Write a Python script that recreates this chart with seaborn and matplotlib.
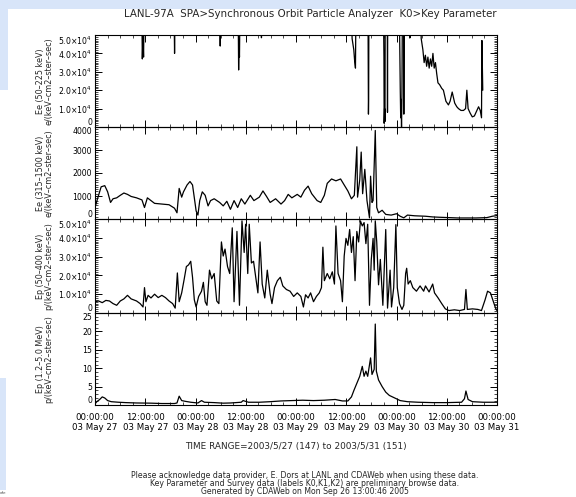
import matplotlib
matplotlib.use("Agg")
import matplotlib.pyplot as plt
from matplotlib.patches import Rectangle
from matplotlib.ticker import MultipleLocator, FixedLocator
import seaborn as sns
import pandas as pd

# ---------------- data (hours since 2003-05-27 00:00) ----------------
ee_lo_hours = [0, 11.2, 11.3, 11.45, 11.6, 11.7,
               18.9, 19.0, 19.1,
               29.8, 29.9, 30.0,
               34.2, 34.3, 34.4, 34.5, 34.6,
               39.7, 39.75, 39.8,
               61.3, 61.4, 61.6, 61.8, 62.0, 62.2, 62.3,
               65.2, 65.3, 65.35, 65.4,
               68.9, 69.0, 69.05, 69.15, 69.25, 69.3,
               69.8, 69.85, 69.9,
               72.7, 72.8, 72.9, 73.0, 73.1, 73.2, 73.3, 73.4,
               73.7, 73.75, 73.8, 73.85,
               75.2, 75.25, 75.3,
               77.8, 77.9, 78.3, 78.6, 78.9, 79.2, 79.5, 79.8, 80.1, 80.4, 80.7,
               81.0, 81.3, 81.6, 81.9, 82.3, 82.8, 83.2, 83.8, 84.4, 84.8, 85.3,
               85.9, 86.4, 86.8, 87.4, 88.0, 88.5, 88.8, 89.1, 89.6, 90.1, 90.6,
               91.2, 91.6, 92.0, 92.3, 92.4, 92.6]
ee_lo_flux = [60000, 60000, 37000, 49000, 38000, 60000,
              60000, 40000, 60000,
              60000, 44000, 60000,
              60000, 31000, 45000, 38000, 60000,
              60000, 48500, 60000,
              60000, 48000, 45000, 42000, 36000, 32000, 60000,
              60000, 7000, 15000, 60000,
              60000, 38000, 2000, 10000, 3000, 60000,
              60000, 8000, 60000,
              60000, 40000, 20000, 5000, 15000, 0, 18000, 60000,
              60000, 7000, 38000, 60000,
              60000, 48500, 60000,
              60000, 48000, 42000, 35000, 39000, 33000, 38000, 32000, 37000, 33000, 40000,
              32000, 35000, 29000, 24000, 23000, 21000, 20000, 14000, 12000, 14000, 19000,
              13000, 11000, 10000, 9000, 9000, 10000, 20000, 10000, 7500, 5500, 6000,
              9000, 11000, 9000, 5000, 47000, 20000]

ee_hi_hours = [0, 0.6, 1.47, 2.33, 3.02, 3.71, 4.31, 5.18, 6.04, 6.9, 7.76, 8.63, 9.92, 11.21,
               11.82, 12.51, 13.37, 14.23, 15.96, 17.68, 18.98, 19.58, 20.1, 20.7, 21.13, 21.99,
               22.68, 23.29, 23.72, 24.15, 24.58, 25.01, 25.62, 26.31, 27.0, 27.6, 28.46, 29.76,
               30.62, 31.48, 32.34, 33.21, 34.07, 34.93, 35.79, 37.09, 37.95, 39.24, 40.11, 40.97,
               41.83, 43.13, 44.42, 45.28, 46.14, 47.01, 48.3, 49.16, 50.03, 50.89, 51.75, 53.04,
               53.91, 54.77, 55.46, 56.49, 57.53, 58.65, 59.51, 60.38, 61.24, 61.93, 62.53, 62.7,
               63.22, 63.57, 63.91, 64.43, 64.95, 65.55, 65.81, 66.15, 66.41, 66.93, 67.28, 67.71,
               68.57, 69.43, 70.73, 72.02, 72.88, 73.74, 74.61, 76.33, 78.92, 80.64, 82.37, 86.68,
               90.99, 93.58, 94.88, 96.0]
ee_hi_flux = [500, 880, 1400, 1450, 1180, 720, 880, 920, 1030, 1130, 1070, 980, 920, 830,
              500, 920, 800, 680, 650, 620, 470, 270, 1330, 950, 1180, 1480,
              1630, 1480, 920, 350, 170, 800, 1180, 1030, 570, 800, 880, 720,
              570, 770, 420, 800, 500, 880, 650, 1030, 800, 950, 1220, 980,
              720, 880, 650, 800, 1070, 920, 1070, 950, 1250, 1430, 1100, 800,
              720, 1030, 1550, 1740, 1660, 1740, 1480, 1220, 880, 1030, 3140, 950,
              1700, 2910, 1100, 2160, 800, 50, 1860, 720, 800, 3850, 500, 270,
              380, 200, 170, 230, 120, 50, 170, 140, 120, 90, 75, 45,
              45, 60, 120, 150]

ep_lo_hours = [0, 0.86, 1.73, 2.59, 3.45, 4.31, 5.18, 6.04, 6.9, 7.76, 8.63, 9.92, 10.78, 11.47,
               11.82, 12.16, 12.68, 13.37, 14.23, 15.09, 15.96, 16.82, 17.68, 18.54, 19.15, 19.67,
               20.1, 20.7, 21.3, 21.82, 22.34, 22.86, 23.29, 23.72, 24.15, 24.75, 25.44, 25.88,
               26.31, 26.74, 27.34, 27.86, 28.46, 29.07, 29.58, 30.19, 30.62, 31.05, 31.65, 32.17,
               32.78, 33.21, 33.9, 34.5, 35.1, 35.62, 35.97, 36.48, 36.83, 37.35, 37.86, 38.38,
               38.9, 39.42, 39.93, 40.54, 41.14, 41.83, 42.26, 42.87, 43.56, 44.25, 44.85, 45.71,
               46.58, 47.44, 48.3, 49.16, 49.77, 50.28, 50.89, 51.49, 52.18, 52.87, 53.56, 54.08,
               54.42, 54.77, 55.46, 56.06, 56.67, 57.18, 57.53, 58.05, 58.65, 59.08, 59.51, 59.94,
               60.38, 60.81, 61.24, 61.67, 62.1, 62.53, 62.96, 63.39, 63.83, 64.26, 64.69, 65.12,
               65.55, 65.98, 66.41, 66.67, 66.93, 67.28, 67.71, 68.14, 68.74, 69.43, 69.86, 70.47,
               70.81, 71.33, 71.85, 72.19, 72.71, 73.31, 73.74, 74.18, 74.43, 74.78, 75.3, 75.9,
               76.76, 77.63, 78.49, 78.92, 79.78, 80.64, 81.08, 81.94, 82.8, 83.66, 84.53, 85.82,
               87.11, 88.23, 88.58, 88.92, 90.13, 91.43, 92.29, 93.15, 93.75, 94.44, 95.13, 95.65,
               96.0]
ep_lo_flux = [6000, 6400, 5500, 6700, 6400, 5000, 4100, 6400, 7500, 9400, 7500, 6400, 5000, 3200,
              13500, 6000, 9400, 8000, 10000, 8200, 9400, 8200, 6400, 5000, 2600, 21300,
              6000, 10700, 18000, 24700, 25600, 27500, 19000, 7000, 3200, 8800, 11600, 16300,
              6000, 4100, 22800, 18200, 21000, 6400, 5000, 37800, 30300, 34000, 24700, 21000,
              45300, 6000, 43400, 4100, 49000, 32200, 47200, 21000, 47200, 26600, 27500, 19000,
              10700, 37800, 15400, 8000, 22800, 10000, 5000, 13500, 17200, 19000, 14400, 12500,
              11600, 8800, 10700, 8800, 3200, 9700, 8000, 10700, 6000, 8800, 10700, 13500,
              35000, 17200, 21000, 18200, 21900, 15400, 46300, 21000, 17200, 6000, 30300, 39700,
              36000, 44400, 32200, 40600, 17200, 43400, 37800, 49000, 46300, 48100, 36900, 47200,
              4100, 28500, 39700, 22800, 49000, 37800, 15000, 28500, 4100, 44400, 2600, 22800,
              3200, 13500, 47000, 13500, 5000, 1900, 4100, 21000, 23800, 15400, 17200, 13500,
              11600, 14400, 11600, 14400, 11200, 15400, 10700, 8000, 5000, 2200, 1300, 1700,
              1300, 1900, 12500, 1900, 2200, 1900, 1300, 7000, 11600, 10700, 6000, 2600,
              1300]

ep_hi_hours = [0, 0.43, 1.12, 1.73, 2.33, 3.02, 3.88, 5.61, 7.33, 9.92, 13.37, 15.96, 18.98, 19.58,
               20.1, 20.7, 21.56, 22.86, 24.58, 25.44, 26.13, 28.46, 30.62, 32.34, 34.93, 35.36,
               36.66, 39.24, 41.83, 44.42, 47.01, 49.59, 52.18, 54.77, 57.36, 59.08, 60.38, 61.24,
               61.84, 62.53, 63.22, 63.83, 64.26, 64.69, 65.12, 65.81, 66.15, 66.67, 66.93, 67.19,
               67.71, 68.57, 69.43, 70.29, 71.59, 72.88, 74.61, 77.19, 80.64, 84.09, 87.54, 88.23,
               88.58, 89.1, 90.13, 92.69, 96.0]
ep_hi_flux = [0.3, 0.9, 1.5, 2.2, 1.9, 1.2, 0.9, 0.75, 0.65, 0.55, 0.5, 0.4, 0.4, 0.55,
              2.4, 1.2, 1.0, 0.75, 0.55, 1.2, 0.75, 0.65, 0.5, 0.55, 0.75, 1.2,
              0.75, 0.75, 0.9, 1.1, 1.2, 1.3, 1.2, 1.3, 1.5, 1.1, 1.1, 2.2,
              4.0, 5.9, 7.8, 10.5, 7.8, 9.2, 7.8, 12.8, 8.3, 9.7, 22.0, 9.2,
              6.8, 5.0, 3.5, 2.6, 1.9, 1.2, 0.9, 0.75, 0.65, 0.65, 0.75, 1.7,
              3.8, 1.5, 0.9, 0.75, 0.75]

time_ticks = [0, 12, 24, 36, 48, 60, 72, 84, 96]
time_ticklabels = ["00:00:00\n03 May 27", "12:00:00\n03 May 27", "00:00:00\n03 May 28",
                   "12:00:00\n03 May 28", "00:00:00\n03 May 29", "12:00:00\n03 May 29",
                   "00:00:00\n03 May 30", "12:00:00\n03 May 30", "00:00:00\n03 May 31"]

flux_ticks = [0, 10000, 20000, 30000, 40000, 50000]
flux_ticklabels = ["0", r"1.0$\times$10$^4$", r"2.0$\times$10$^4$", r"3.0$\times$10$^4$",
                   r"4.0$\times$10$^4$", r"5.0$\times$10$^4$"]
hi_ticks = [0, 1000, 2000, 3000, 4000]
hi_ticklabels = ["0", "1000", "2000", "3000", "4000"]
mev_ticks = [0, 5, 10, 15, 20, 25]
mev_ticklabels = ["0", "5", "10", "15", "20", "25"]

panel_labels = ["Ee (50\u2013225 keV)\ne/(keV\u2013cm2\u2013ster\u2013sec)",
                "Ee (315\u20131500 keV)\ne/(keV\u2013cm2\u2013ster\u2013sec)",
                "Ep (50\u2013400 keV)\np/(keV\u2013cm2\u2013ster\u2013sec)",
                "Ep (1.2\u20135.0 MeV)\np/(keV\u2013cm2\u2013ster\u2013sec)"]

title = "LANL-97A  SPA>Synchronous Orbit Particle Analyzer  K0>Key Parameter"
time_range = "TIME RANGE=2003/5/27 (147) to 2003/5/31 (151)"
footer = ["Please acknowledge data provider, E. Dors at LANL and CDAWeb when using these data.",
          "Key Parameter and Survey data (labels K0,K1,K2) are preliminary browse data.",
          "Generated by CDAWeb on Mon Sep 26 13:00:46 2005"]

# ---------------- figure ----------------
sns.set_style("white")
plt.rcParams["font.family"] = ["DejaVu Sans"]
plt.rcParams["mathtext.fontset"] = "dejavusans"

W, H = 576, 497
fig = plt.figure(figsize=(W / 100, H / 100), dpi=100)
fig.patch.set_facecolor("white")

blue = "#d8e5f9"
for (x0, y0, w, h) in [(0, 0, W, 9), (0, 0, 8, 90), (0, 378, 6, 112)]:
    fig.patches.append(Rectangle((x0 / W, 1 - (y0 + h) / H), w / W, h / H,
                                 transform=fig.transFigure, facecolor=blue,
                                 edgecolor="none", zorder=-5))
fig.text(0.0, 1 - 493 / H, "ofe", fontsize=3, color="#555555", va="center", ha="left")

left, right = 95, 497
tops = [35, 127, 219, 313]
bottoms = [127, 219, 313, 405]

series = [(ee_lo_hours, ee_lo_flux, (0, 50000), flux_ticks, flux_ticklabels, 1000),
          (ee_hi_hours, ee_hi_flux, (0, 4000), hi_ticks, hi_ticklabels, 100),
          (ep_lo_hours, ep_lo_flux, (0, 50000), flux_ticks, flux_ticklabels, 1000),
          (ep_hi_hours, ep_hi_flux, (0, 25), mev_ticks, mev_ticklabels, 1)]

fs = 6.2
yfs = 5.6
for i, (hrs, vals, ylim, yt, ytl, minor) in enumerate(series):
    ax = fig.add_axes([left / W, 1 - bottoms[i] / H, (right - left) / W,
                       (bottoms[i] - tops[i]) / H])
    ax.set_facecolor("none")
    df = pd.DataFrame({"hour": hrs, "flux": vals})
    sns.lineplot(data=df, x="hour", y="flux", ax=ax, color="black",
                 linewidth=0.9, estimator=None, sort=False)
    ax.set_xlim(0, 96)
    ax.set_ylim(*ylim)
    ax.xaxis.set_major_locator(FixedLocator(time_ticks))
    ax.xaxis.set_minor_locator(MultipleLocator(3))
    ax.yaxis.set_major_locator(FixedLocator(yt))
    labs = ax.set_yticklabels(ytl)
    labs[0].set_verticalalignment("bottom")
    labs[-1].set_verticalalignment("top")
    ax.yaxis.set_minor_locator(MultipleLocator(minor))
    ax.tick_params(which="both", direction="in", top=True, right=True,
                   bottom=True, left=True, colors="black", pad=2)
    ax.tick_params(axis="y", labelsize=yfs)
    ax.tick_params(axis="x", labelsize=fs)
    ax.tick_params(which="major", length=5, width=0.7)
    ax.tick_params(which="minor", length=2.5, width=0.5)
    for s in ax.spines.values():
        s.set_color("black")
        s.set_linewidth(0.8)
    ax.set_xlabel("")
    ax.set_ylabel(panel_labels[i], fontsize=5.8, linespacing=1.0)
    ax.yaxis.set_label_coords(-0.103, 0.5)
    if i == 3:
        ax.set_xticklabels(time_ticklabels, fontsize=fs, linespacing=1.15)
        ax.tick_params(axis="x", pad=6)
    else:
        ax.set_xticklabels([])

fig.text(310 / W, 1 - 14 / H, title, fontsize=7.4, ha="center", va="center")
fig.text(296 / W, 1 - 446 / H, time_range, fontsize=6.4, ha="center", va="center")
for k, line in enumerate(footer):
    fig.text(305 / W, 1 - (475 + 8.5 * k) / H, line, fontsize=5.6, ha="center", va="center")

fig.savefig("out.png", dpi=100)
